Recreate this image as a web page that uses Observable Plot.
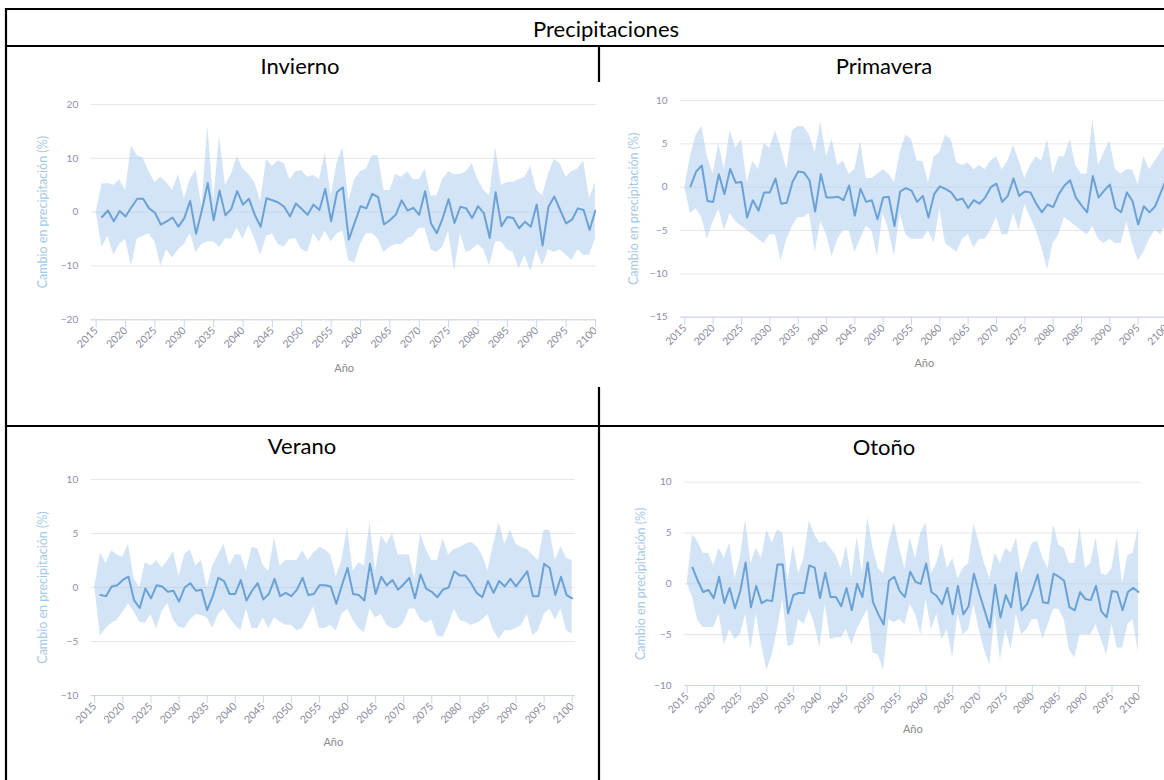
<!DOCTYPE html>
<html>
<head>
<meta charset="utf-8">
<script src="https://cdn.jsdelivr.net/npm/d3@7"></script>
<script src="https://cdn.jsdelivr.net/npm/@observablehq/plot@0.6"></script>
<style>
  html, body { margin: 0; padding: 0; background: #fff; }
  body { width: 1164px; height: 780px; overflow: hidden; position: relative; font-family: Lato, "Noto Sans", sans-serif; }
  .layer { position: absolute; left: 0; top: 0; }
  .panel { position: absolute; }
</style>
</head>
<body>
<svg class="layer" width="1164" height="780" id="table">
  <g stroke="#000" stroke-width="2.2" fill="none">
    <line x1="5" y1="9" x2="1200" y2="9"></line>
    <line x1="5" y1="46" x2="1200" y2="46"></line>
    <line x1="5" y1="426" x2="1200" y2="426"></line>
    <line x1="6" y1="8" x2="6" y2="800"></line>
    <line x1="599" y1="46" x2="599" y2="800"></line>
  </g>
  <g font-family="Lato, 'Noto Sans', sans-serif" font-size="22" fill="#000" text-anchor="middle">
    <text x="606" y="36.5">Precipitaciones</text>
    <text x="300" y="73.5">Invierno</text>
    <text x="884" y="74">Primavera</text>
    <text x="302" y="453.5">Verano</text>
    <text x="884" y="454.5">Otoño</text>
  </g>
</svg>
<script>
// ---- data ----
const lineYears = d3.range(2016, 2101);
const bandYears = d3.range(2015, 2101);
const xTicks = [2015, 2020, 2025, 2030, 2035, 2040, 2045, 2050, 2055, 2060, 2065, 2070, 2075, 2080, 2085, 2090, 2095, 2100];
const yLabel = "Cambio en precipitación (%)";
const xLabel = "Año";

const inviernoLine = [-0.9,0.3,-1.7,0.2,-0.8,0.9,2.5,2.5,0.7,-0.1,
  -2.3,-1.7,-1.0,-2.7,-1.1,2.1,-4.0,0.4,5.4,-1.5,
  4.0,-0.6,0.6,3.9,1.4,2.5,-0.5,-2.7,2.6,2.2,
  1.8,1.0,-0.8,1.6,0.6,-0.5,1.4,0.4,4.3,-1.7,
  3.7,4.6,-5.1,-2.0,1.1,0.7,3.4,2.8,-2.3,-1.5,
  -0.5,2.2,0.3,0.8,-0.5,3.9,-2.1,-3.9,-1.1,2.4,
  -2.0,1.0,0.7,-1.1,1.1,-0.2,-4.8,3.7,-2.6,-0.9,
  -1.1,-3.0,-1.8,-2.7,1.4,-6.2,1.0,2.9,0.4,-2.1,
  -1.4,0.7,0.4,-3.3,0.3];
const inviernoHi = [0,
  5.2,5.3,5.0,6.0,4.0,12.3,10.5,10.0,7.5,5.5,
  6.5,5.5,4.0,7.0,2.5,6.0,7.8,1.0,16.0,2.0,
  14.2,5.0,7.0,10.3,8.0,7.0,5.5,2.0,9.8,8.5,
  9.5,9.0,6.0,7.5,7.7,6.5,6.8,6.0,11.0,3.0,
  9.0,12.0,2.0,6.0,7.5,8.0,10.5,10.5,4.0,4.0,
  7.0,6.5,7.5,6.0,6.0,8.0,3.0,3.0,6.0,7.5,
  7.0,7.0,7.5,9.0,6.0,4.0,3.0,12.0,5.0,5.5,
  5.5,6.0,6.5,8.5,4.0,3.0,7.0,9.8,9.0,6.5,
  7.5,8.0,9.5,2.5,5.5];
const inviernoLo = [0,
  -6.5,-4.5,-8.0,-6.0,-5.0,-10.0,-5.0,-4.5,-4.0,-5.5,
  -10.0,-7.0,-8.5,-7.0,-6.0,-4.0,-7.5,-6.0,-5.5,-5.5,
  -6.5,-5.0,-5.0,-3.0,-5.0,-2.5,-5.0,-8.0,-4.5,-4.0,
  -6.0,-6.5,-5.0,-5.0,-7.0,-7.5,-4.0,-5.5,-3.5,-5.5,
  -4.0,-3.5,-9.0,-9.5,-6.0,-4.0,-4.0,-5.0,-7.5,-6.5,
  -6.0,-6.0,-5.0,-4.5,-3.0,-3.0,-7.0,-7.5,-6.5,-3.5,
  -11.0,-4.0,-7.5,-7.0,-6.0,-7.0,-10.0,-5.5,-5.5,-7.0,
  -7.5,-10.5,-8.0,-11.0,-7.0,-10.0,-7.0,-7.5,-7.0,-8.0,
  -9.0,-7.0,-8.0,-8.0,-5.0];

const primaveraLine = [0.1,1.8,2.5,-1.6,-1.7,1.5,-0.8,2.1,0.5,0.6,
  -3.5,-1.5,-2.7,-0.6,-0.6,1.0,-1.9,-1.8,0.6,1.8,
  1.7,0.8,-2.8,1.5,-1.2,-1.2,-1.1,-1.5,0.2,-3.3,
  -0.2,-1.7,-1.5,-3.7,-1.2,-1.1,-4.5,-0.5,-0.1,-0.4,
  -1.7,-1.0,-3.5,-0.8,0.1,-0.2,-0.6,-1.5,-1.3,-2.4,
  -1.5,-1.9,-1.2,0.0,0.4,-1.7,-1.0,1.0,-1.0,-0.5,
  -0.6,-1.9,-2.9,-2.0,-2.3,-0.8,0.2,0.8,-1.2,-2.1,
  -2.9,1.3,-1.2,-0.4,0.3,-2.4,-2.9,-0.6,-1.6,-4.3,
  -2.2,-2.9,-2.2,-0.6,1.0];
const primaveraHi = [0,
  3.5,6.0,7.0,3.5,1.5,5.0,2.0,6.5,4.5,5.5,
  0.5,3.0,2.0,5.0,4.5,6.5,4.5,2.0,6.5,7.0,
  7.0,6.0,4.0,7.5,3.5,5.5,2.5,3.0,1.5,2.0,
  5.3,1.0,1.0,1.5,2.0,1.5,0.5,4.0,6.0,5.5,
  3.0,3.0,0.5,3.5,4.0,6.0,5.5,2.8,2.5,2.8,
  2.0,2.5,2.0,3.0,3.5,2.0,3.0,4.8,3.0,1.0,
  2.5,3.5,3.0,5.5,1.5,3.5,3.5,5.5,2.5,1.5,
  1.5,7.8,2.5,4.0,5.3,2.0,1.5,2.0,2.0,0.3,
  3.5,2.0,3.0,4.0,5.0];
const primaveraLo = [0,
  -3.0,-2.5,-3.5,-6.0,-4.0,-2.5,-5.0,-3.0,-4.0,-4.5,
  -5.0,-5.5,-6.0,-6.5,-5.5,-5.5,-8.5,-6.0,-4.5,-3.5,
  -3.5,-3.0,-7.5,-4.0,-5.5,-8.0,-6.0,-5.0,-5.0,-7.5,
  -6.0,-4.5,-5.0,-8.0,-3.0,-5.0,-8.0,-3.0,-5.5,-6.0,
  -6.0,-6.0,-5.0,-6.5,-2.5,-6.5,-7.0,-7.5,-6.0,-5.5,
  -7.0,-6.0,-6.0,-5.0,-3.5,-5.5,-5.5,-3.0,-5.0,-2.0,
  -3.5,-5.0,-7.0,-9.5,-6.5,-5.5,-3.5,-4.0,-4.5,-5.0,
  -5.5,-4.5,-6.0,-6.5,-6.0,-6.5,-6.5,-4.0,-6.5,-8.5,
  -7.5,-6.0,-5.0,-5.5,-4.0];

const veranoLine = [-0.7,-0.8,0.1,0.2,0.7,1.0,-1.2,-1.9,-0.1,-1.0,
  0.2,0.1,-0.4,-0.3,-1.3,0.0,0.4,-0.3,-0.2,-2.1,
  -0.8,0.9,0.6,-0.6,-0.6,0.7,-1.2,-0.3,0.4,-1.1,
  -0.6,0.8,-0.8,-0.5,-0.8,-0.2,0.9,-0.7,-0.6,0.2,
  0.2,0.1,-1.5,0.2,1.8,-0.6,-0.7,-1.2,2.2,-0.6,
  1.0,0.2,0.7,-0.2,0.3,0.9,-1.0,1.2,-0.1,-0.4,
  -0.9,-0.2,0.0,1.5,1.1,1.1,0.4,-0.5,-0.9,0.6,
  -0.5,0.6,0.1,0.8,0.1,0.8,1.5,-0.8,-0.8,2.2,
  1.8,-0.7,1.0,-0.7,-1.0];
const veranoHi = [0,
  3.2,2.2,3.4,3.0,2.8,4.0,0.8,0.0,2.3,2.0,
  2.5,1.8,2.5,3.3,1.0,3.0,3.5,2.0,2.5,0.0,
  2.0,3.0,4.0,2.0,3.0,3.0,1.5,3.7,3.6,2.0,
  1.5,4.6,2.0,2.5,2.5,2.5,3.4,2.5,3.2,3.7,
  3.5,3.0,1.0,2.5,5.5,1.5,2.3,2.0,6.0,1.5,
  4.8,4.0,5.0,3.0,3.0,3.0,0.8,5.0,3.5,2.5,
  2.5,4.5,3.0,3.5,3.7,4.0,4.2,3.8,3.0,1.5,
  4.0,6.0,4.0,5.3,4.0,3.7,3.5,3.0,2.5,5.3,
  5.3,2.5,3.8,2.7,2.5];
const veranoLo = [0,
  -4.5,-3.8,-3.3,-3.0,-2.3,-1.5,-2.3,-3.2,-3.3,-2.5,
  -3.8,-2.2,-1.5,-3.0,-3.7,-3.8,-3.0,-2.5,-2.6,-2.8,
  -3.8,-2.5,-2.0,-2.8,-3.5,-4.0,-2.0,-3.8,-3.8,-2.8,
  -3.8,-2.8,-3.2,-3.5,-3.5,-4.0,-3.8,-2.8,-1.8,-3.8,
  -3.8,-3.5,-4.0,-2.5,-2.0,-3.0,-3.8,-4.2,-2.0,-2.8,
  -2.5,-3.5,-3.8,-3.8,-3.3,-2.0,-2.0,-3.0,-3.3,-3.0,
  -4.5,-4.6,-3.5,-2.0,-3.0,-3.2,-3.5,-3.3,-3.0,-2.5,
  -4.0,-4.8,-4.0,-4.0,-3.8,-3.5,-2.5,-4.5,-4.0,-2.5,
  -2.0,-3.0,-2.0,-4.0,-4.3];

const otonoLine = [1.6,0.3,-0.8,-0.6,-1.4,0.7,-1.9,-0.4,-2.4,-0.7,
  2.1,-2.3,-0.2,-1.9,-1.6,-1.7,1.9,1.9,-2.9,-1.1,
  -0.9,-0.9,1.8,1.6,-1.4,1.1,-1.3,-1.3,-2.2,-0.4,
  -2.6,0.0,-1.3,2.1,-1.8,-3.0,-4.0,0.3,0.7,-0.7,
  -1.3,1.2,0.2,0.0,2.0,-0.8,-1.2,-2.0,-0.4,-3.0,
  -0.2,-3.0,-2.2,1.0,-0.9,-2.6,-4.3,-0.1,-3.3,-1.1,
  -2.3,1.1,-2.6,-2.0,-0.7,0.9,-1.8,-1.9,1.0,0.7,
  0.3,-2.3,-2.6,-0.8,-1.5,-1.6,-0.2,-2.7,-3.3,-0.7,
  -0.8,-2.6,-0.8,-0.4,-0.8];
const otonoHi = [0,
  4.8,4.2,3.0,3.0,1.8,3.5,2.5,4.0,0.5,2.5,
  6.3,2.0,3.5,2.5,5.3,4.0,5.3,5.0,0.3,3.8,
  1.0,2.5,6.2,4.8,4.0,4.2,3.5,2.8,1.5,3.7,
  0.5,4.6,1.0,6.5,3.5,1.5,1.0,4.0,6.0,3.5,
  1.5,4.5,2.5,5.0,6.0,1.0,2.0,4.0,1.5,2.5,
  0.5,1.5,2.0,5.9,4.0,2.0,0.5,3.0,2.0,3.5,
  3.0,4.5,1.0,2.5,4.0,4.2,2.5,1.5,5.8,3.8,
  3.5,2.0,2.0,5.5,1.5,2.0,4.5,1.0,0.8,1.5,
  4.5,0.0,2.8,3.0,5.5];
const otonoLo = [0,
  -1.3,-3.6,-4.3,-4.3,-4.3,-3.0,-6.0,-4.5,-5.5,-5.0,
  -3.0,-6.5,-3.0,-6.0,-8.5,-7.0,-4.5,-1.5,-6.2,-6.0,
  -3.5,-4.0,-2.5,-4.0,-6.3,-2.0,-5.5,-5.3,-5.3,-4.5,
  -6.0,-4.5,-3.5,-2.5,-6.8,-7.0,-8.5,-3.5,-3.8,-3.5,
  -4.0,-2.0,-3.0,-5.0,-1.5,-4.5,-3.0,-5.5,-4.5,-7.3,
  -3.0,-5.0,-4.5,-2.0,-4.5,-6.5,-8.0,-3.0,-7.5,-4.5,
  -6.5,-3.0,-5.0,-4.5,-3.5,-3.5,-5.5,-4.0,-2.5,-2.5,
  -3.5,-6.5,-7.3,-5.0,-5.0,-5.0,-4.0,-5.5,-7.0,-4.0,
  -6.3,-6.3,-4.0,-3.5,-6.8];

// ---- drawing ----
function panel(cfg) {
  const lineData = lineYears.map((yr, i) => ({year: yr, v: cfg.line[i]}));
  const bandData = bandYears.map((yr, i) => ({year: yr, lo: cfg.lo[i], hi: cfg.hi[i]}));
  const svg = Plot.plot({
    width: cfg.width, height: cfg.height,
    marginLeft: cfg.ml, marginRight: cfg.mr, marginTop: cfg.mt, marginBottom: cfg.mb,
    style: {background: cfg.bg, fontFamily: "Lato, 'Noto Sans', sans-serif", overflow: "visible"},
    x: {domain: cfg.xDomain},
    y: {domain: cfg.yDomain},
    marks: [
      Plot.gridY(cfg.yTicks, {stroke: "#e6e6e6", strokeOpacity: 1}),
      Plot.areaY(bandData, {x: "year", y1: "lo", y2: "hi", fill: "#a5c9ed", fillOpacity: 0.5}),
      Plot.lineY(lineData, {x: "year", y: "v", stroke: "#6ba2d6", strokeWidth: 2}),
      Plot.ruleY([cfg.yDomain[0]], {stroke: "#ccd6eb"}),
      Plot.axisY(cfg.yTicks, {tickSize: 0, tickPadding: 13, fill: "#8f8dab", fontSize: 10, label: null}),
      Plot.axisX(xTicks, {tickSize: 8, tickPadding: 1, stroke: "#ccd6eb", tickRotate: -45, fill: "#8a8a9c", fontSize: 10.5, label: null, tickFormat: d => `${d}`}),
      Plot.text([yLabel], {frameAnchor: "left", rotate: -90, dx: cfg.yLabelDx, textAnchor: "middle", lineAnchor: "middle", fill: "#a6c9e6", fontSize: 12.5}),
      Plot.text([xLabel], {frameAnchor: "bottom", dy: cfg.xLabelDy, textAnchor: "middle", lineAnchor: "middle", fill: "#8a8a8a", fontSize: 11})
    ]
  });
  svg.classList.add("panel");
  svg.style.left = cfg.left + "px";
  svg.style.top = cfg.top + "px";
  document.body.appendChild(svg);
}

panel({line: inviernoLine, hi: inviernoHi, lo: inviernoLo,
  left: 8, top: 80, width: 600, height: 310, ml: 82.7, mr: 11.3, mt: 24, mb: 70.7,
  xDomain: [2014.15, 2100.3], yDomain: [-20, 20], yTicks: [-20, -10, 0, 10, 20],
  yLabelDx: -47.7, xLabelDy: 48.7, bg: "transparent"});
panel({line: primaveraLine, hi: primaveraHi, lo: primaveraLo,
  left: 596, top: 82, width: 575, height: 305, ml: 84, mr: 3.3, mt: 18, mb: 70.3,
  xDomain: [2014.24, 2100.3], yDomain: [-15, 10], yTicks: [-15, -10, -5, 0, 5, 10],
  yLabelDx: -47, xLabelDy: 46.3, bg: "#ffffff"});
panel({line: veranoLine, hi: veranoHi, lo: veranoLo,
  left: 8, top: 460, width: 580, height: 300, ml: 82.7, mr: 13, mt: 19, mb: 65,
  xDomain: [2014.36, 2100.59], yDomain: [-10, 10], yTicks: [-10, -5, 0, 5, 10],
  yLabelDx: -47.7, xLabelDy: 46.7, bg: "transparent"});
panel({line: otonoLine, hi: otonoHi, lo: otonoLo,
  left: 602, top: 460, width: 550, height: 300, ml: 82, mr: 11.3, mt: 21.7, mb: 75,
  xDomain: [2014.49, 2100.51], yDomain: [-10, 10], yTicks: [-10, -5, 0, 5, 10],
  yLabelDx: -44, xLabelDy: 44, bg: "transparent"});
</script>
</body>
</html>
